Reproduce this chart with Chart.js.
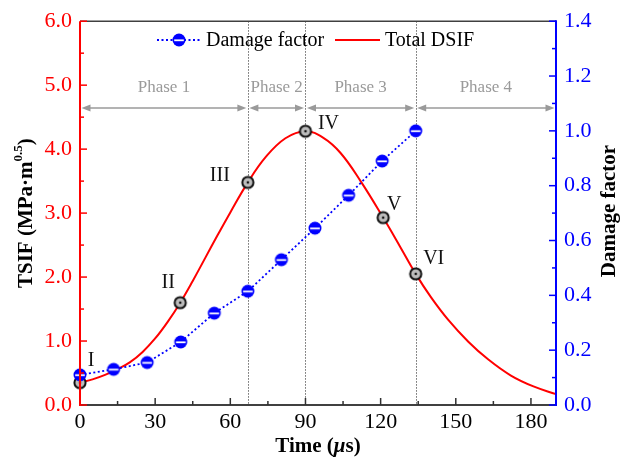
<!DOCTYPE html>
<html>
<head>
<meta charset="utf-8">
<script src="https://cdn.jsdelivr.net/npm/chart.js@4/dist/chart.umd.min.js"></script>
<style>
  html, body { margin: 0; padding: 0; background: #fff; }
  #wrap { width: 626px; height: 461px; position: relative; }
</style>
</head>
<body>
<div id="wrap"><canvas id="chart" width="626" height="461"></canvas></div>
<script>
// Damage factor sampled along the loading history
const damageTime = [0, 13.4, 26.8, 40.2, 53.6, 67, 80.4, 93.8, 107.2, 120.6, 134];
const damageFactor = [0.11, 0.13, 0.155, 0.23, 0.335, 0.415, 0.53, 0.645, 0.765, 0.89, 1.0];

// Total dynamic stress intensity factor (MPa·m^0.5)
const tsifTime = [0, 5, 10, 15, 20, 25, 30, 35, 40, 45, 50, 55, 60, 67, 74, 82, 90, 97, 104, 112, 121, 128, 134, 140, 147, 155, 163, 172, 181, 190];
const tsifValue = [0.35, 0.40, 0.47, 0.56, 0.67, 0.83, 1.04, 1.30, 1.60, 1.94, 2.30, 2.66, 3.01, 3.48, 3.87, 4.17, 4.28, 4.18, 3.94, 3.50, 2.93, 2.46, 2.05, 1.69, 1.33, 0.99, 0.71, 0.46, 0.29, 0.17];

// Characteristic states on the TSIF curve
const stageTimes = [0, 40, 67, 90, 121, 134];
const stageLabels = ['I', 'II', 'III', 'IV', 'V', 'VI'];

// Crack propagation phases
const phaseBounds = [0, 67, 90, 134, 190];
const phaseLabels = ['Phase 1', 'Phase 2', 'Phase 3', 'Phase 4'];

// Axis ticks
const timeTicks = [0, 30, 60, 90, 120, 150, 180];
const timeMinorTicks = [15, 45, 75, 105, 135, 165];
const tsifTicks = [0, 1, 2, 3, 4, 5, 6];
const tsifMinorTicks = [0.5, 1.5, 2.5, 3.5, 4.5, 5.5];
const damageTicks = [0, 0.2, 0.4, 0.6, 0.8, 1.0, 1.2, 1.4];
const damageMinorTicks = [0.1, 0.3, 0.5, 0.7, 0.9, 1.1, 1.3];

const SERIF = "'Liberation Serif', 'Times New Roman', serif";
Chart.defaults.font.family = SERIF;

// Marker sprites
function makeBlueMarker() {
  const c = document.createElement('canvas');
  c.width = 16; c.height = 16;
  const g = c.getContext('2d');
  g.fillStyle = '#0000ff';
  g.beginPath(); g.arc(8, 8, 6.5, 0, Math.PI * 2); g.fill();
  g.strokeStyle = '#ffffff';
  g.lineWidth = 1.8;
  g.beginPath(); g.moveTo(3.2, 8.3); g.lineTo(12.8, 8.3); g.stroke();
  return c;
}
function makeStageMarker() {
  const c = document.createElement('canvas');
  c.width = 16; c.height = 16;
  const g = c.getContext('2d');
  g.fillStyle = '#bdbdbd';
  g.strokeStyle = '#111111';
  g.lineWidth = 2;
  g.beginPath(); g.arc(8, 8, 5.6, 0, Math.PI * 2); g.fill(); g.stroke();
  g.fillStyle = '#111111';
  g.beginPath(); g.arc(8, 8, 1.3, 0, Math.PI * 2); g.fill();
  return c;
}
const blueMarker = makeBlueMarker();
const stageMarker = makeStageMarker();

// Label offsets (px) for the stage markers
const stageLabelOffset = {
  I: [11, -22], II: [-12, -20], III: [-28, -7], IV: [23, -7], V: [11, -13], VI: [18, -15]
};

function drawArrowHead(ctx, x, y, dir) {
  ctx.beginPath();
  ctx.moveTo(x, y);
  ctx.lineTo(x - dir * 9, y - 3.5);
  ctx.lineTo(x - dir * 9, y + 3.5);
  ctx.closePath();
  ctx.fill();
}

const decorPlugin = {
  id: 'decor',
  beforeDatasetsDraw(chart) {
    const ctx = chart.ctx;
    const a = chart.chartArea;
    const xs = chart.scales.x;
    ctx.save();
    // phase boundaries
    ctx.strokeStyle = '#666666';
    ctx.lineWidth = 1;
    ctx.setLineDash([1.5, 1.5]);
    for (let i = 1; i < phaseBounds.length - 1; i++) {
      const px = Math.round(xs.getPixelForValue(phaseBounds[i])) + 0.5;
      ctx.beginPath(); ctx.moveTo(px, a.top); ctx.lineTo(px, a.bottom); ctx.stroke();
    }
    ctx.setLineDash([]);
    // phase arrows and captions
    const arrowY = 108;
    ctx.strokeStyle = '#9a9a9a';
    ctx.fillStyle = '#9a9a9a';
    ctx.lineWidth = 1.4;
    ctx.font = '17px ' + SERIF;
    ctx.textAlign = 'center';
    ctx.textBaseline = 'middle';
    for (let i = 0; i < phaseLabels.length; i++) {
      const x0 = xs.getPixelForValue(phaseBounds[i]) + 1.5;
      const x1 = xs.getPixelForValue(phaseBounds[i + 1]) - 1.5;
      ctx.beginPath(); ctx.moveTo(x0 + 4, arrowY); ctx.lineTo(x1 - 4, arrowY); ctx.stroke();
      drawArrowHead(ctx, x0, arrowY, -1);
      drawArrowHead(ctx, x1, arrowY, 1);
      ctx.fillStyle = '#9a9a9a';
      ctx.fillText(phaseLabels[i], (x0 + x1) / 2, 88);
    }
    ctx.restore();
  },
  afterDatasetsDraw(chart) {
    const ctx = chart.ctx;
    const a = chart.chartArea;
    const xs = chart.scales.x, yl = chart.scales.yL, yr = chart.scales.yR;
    ctx.save();
    // frame
    ctx.lineWidth = 1.5;
    ctx.strokeStyle = '#404040';
    ctx.beginPath(); ctx.moveTo(a.left, a.top); ctx.lineTo(a.right, a.top); ctx.stroke();
    ctx.lineWidth = 2;
    ctx.beginPath(); ctx.moveTo(a.left, a.bottom); ctx.lineTo(a.right, a.bottom); ctx.stroke();
    // bottom ticks (inward)
    ctx.strokeStyle = '#303030';
    ctx.lineWidth = 1.5;
    timeTicks.forEach(v => {
      const px = xs.getPixelForValue(v);
      ctx.beginPath(); ctx.moveTo(px, a.bottom); ctx.lineTo(px, a.bottom - 7); ctx.stroke();
    });
    timeMinorTicks.forEach(v => {
      const px = xs.getPixelForValue(v);
      ctx.beginPath(); ctx.moveTo(px, a.bottom); ctx.lineTo(px, a.bottom - 4); ctx.stroke();
    });
    // left axis
    ctx.strokeStyle = '#ff0000';
    ctx.lineWidth = 2;
    ctx.beginPath(); ctx.moveTo(a.left, a.top); ctx.lineTo(a.left, a.bottom + 1); ctx.stroke();
    ctx.lineWidth = 1.5;
    tsifTicks.forEach(v => {
      const py = yl.getPixelForValue(v);
      ctx.beginPath(); ctx.moveTo(a.left, py); ctx.lineTo(a.left + 7, py); ctx.stroke();
    });
    tsifMinorTicks.forEach(v => {
      const py = yl.getPixelForValue(v);
      ctx.beginPath(); ctx.moveTo(a.left, py); ctx.lineTo(a.left + 4, py); ctx.stroke();
    });
    // right axis
    ctx.strokeStyle = '#0000ff';
    ctx.lineWidth = 2;
    ctx.beginPath(); ctx.moveTo(a.right, a.top - 1); ctx.lineTo(a.right, a.bottom + 1); ctx.stroke();
    ctx.lineWidth = 1.5;
    damageTicks.forEach(v => {
      const py = yr.getPixelForValue(v);
      ctx.beginPath(); ctx.moveTo(a.right, py); ctx.lineTo(a.right - 7, py); ctx.stroke();
    });
    damageMinorTicks.forEach(v => {
      const py = yr.getPixelForValue(v);
      ctx.beginPath(); ctx.moveTo(a.right, py); ctx.lineTo(a.right - 4, py); ctx.stroke();
    });

    // stage labels
    ctx.fillStyle = '#111111';
    ctx.font = '20px ' + SERIF;
    ctx.textAlign = 'center';
    ctx.textBaseline = 'middle';
    stageTimes.forEach((t, i) => {
      const idx = tsifTime.indexOf(t);
      const px = xs.getPixelForValue(t);
      const py = yl.getPixelForValue(tsifValue[idx]);
      const off = stageLabelOffset[stageLabels[i]];
      ctx.fillText(stageLabels[i], px + off[0], py + off[1]);
    });

    // legend
    const ly = 40;
    ctx.strokeStyle = '#0000ff';
    ctx.lineWidth = 1.8;
    ctx.setLineDash([2, 2.5]);
    ctx.beginPath(); ctx.moveTo(157, ly); ctx.lineTo(202, ly); ctx.stroke();
    ctx.setLineDash([]);
    ctx.drawImage(blueMarker, 179 - 8, ly - 8);
    ctx.fillStyle = '#000000';
    ctx.font = '20px ' + SERIF;
    ctx.textAlign = 'left';
    ctx.fillText('Damage factor', 206, ly + 1);
    ctx.strokeStyle = '#ff0000';
    ctx.lineWidth = 2;
    ctx.beginPath(); ctx.moveTo(335, ly); ctx.lineTo(380, ly); ctx.stroke();
    ctx.fillText('Total DSIF', 385, ly + 1);

    // axis titles
    const bold = 'bold 21px ' + SERIF;
    ctx.fillStyle = '#000000';
    ctx.textBaseline = 'middle';
    ctx.textAlign = 'left';
    const p1 = 'Time (', p2 = '\u03bc', p3 = 's)';
    ctx.font = bold; const w1 = ctx.measureText(p1).width, w3 = ctx.measureText(p3).width;
    ctx.font = 'italic ' + bold; const w2 = ctx.measureText(p2).width;
    let tx = (a.left + a.right) / 2 - (w1 + w2 + w3) / 2;
    const ty = 447;
    ctx.font = bold; ctx.fillText(p1, tx, ty); tx += w1;
    ctx.font = 'italic ' + bold; ctx.fillText(p2, tx, ty); tx += w2;
    ctx.font = bold; ctx.fillText(p3, tx, ty);

    // left title with superscript
    ctx.save();
    ctx.translate(27, (a.top + a.bottom) / 2);
    ctx.rotate(-Math.PI / 2);
    const s1 = 'TSIF (MPa\u00b7m', s2 = '0.5', s3 = ')';
    const supFont = 'bold 13px ' + SERIF;
    ctx.font = bold; const m1 = ctx.measureText(s1).width, m3 = ctx.measureText(s3).width;
    ctx.font = supFont; const m2 = ctx.measureText(s2).width;
    let sx = -(m1 + m2 + m3) / 2;
    ctx.font = bold; ctx.fillText(s1, sx, 0); sx += m1;
    ctx.font = supFont; ctx.fillText(s2, sx, -8); sx += m2;
    ctx.font = bold; ctx.fillText(s3, sx, 0);
    ctx.restore();

    // right title
    ctx.save();
    ctx.translate(610, (a.top + a.bottom) / 2 - 2);
    ctx.rotate(-Math.PI / 2);
    ctx.font = bold;
    ctx.textAlign = 'center';
    ctx.fillText('Damage factor', 0, 0);
    ctx.restore();

    ctx.restore();
  }
};

const fixedTicks = (values) => (scale) => { scale.ticks = values.map(v => ({ value: v })); };

new Chart(document.getElementById('chart'), {
  type: 'line',
  data: {
    datasets: [
      {
        label: 'Damage factor',
        data: damageTime.map((t, i) => ({ x: t, y: damageFactor[i] })),
        yAxisID: 'yR',
        borderColor: '#0000ff',
        borderWidth: 1.8,
        borderDash: [2, 2.5],
        pointStyle: blueMarker,
        pointRadius: 6,
        tension: 0,
        clip: false,
        order: 0
      },
      {
        label: 'Total DSIF',
        data: tsifTime.map((t, i) => ({ x: t, y: tsifValue[i] })),
        yAxisID: 'yL',
        borderColor: '#ff0000',
        borderWidth: 2,
        tension: 0.4,
        pointStyle: stageMarker,
        pointRadius: (c) => (c.raw && stageTimes.includes(c.raw.x)) ? 6 : 0,
        clip: false,
        order: 1
      }
    ]
  },
  options: {
    animation: false,
    responsive: false,
    events: [],
    layout: { padding: { top: 20, left: 0, right: 0, bottom: 0 } },
    plugins: { legend: { display: false }, tooltip: { enabled: false } },
    scales: {
      x: {
        type: 'linear', min: 0, max: 190,
        afterBuildTicks: fixedTicks(timeTicks),
        afterFit: (s) => { s.height = 56; },
        grid: { display: false, drawTicks: false, tickLength: 0 },
        border: { display: false },
        ticks: { color: '#000000', font: { size: 22 }, padding: 4, maxRotation: 0, autoSkip: false }
      },
      yL: {
        type: 'linear', position: 'left', min: 0, max: 6,
        afterBuildTicks: fixedTicks(tsifTicks),
        afterFit: (s) => { s.width = 80; },
        grid: { display: false, drawTicks: false, tickLength: 0 },
        border: { display: false },
        ticks: { color: '#ff0000', font: { size: 22 }, padding: 8, callback: (v) => Number(v).toFixed(1) }
      },
      yR: {
        type: 'linear', position: 'right', min: 0, max: 1.4,
        afterBuildTicks: fixedTicks(damageTicks),
        afterFit: (s) => { s.width = 70; },
        grid: { display: false, drawTicks: false, tickLength: 0 },
        border: { display: false },
        ticks: { color: '#0000ff', font: { size: 22 }, padding: 8, callback: (v) => Number(v).toFixed(1) }
      }
    }
  },
  plugins: [decorPlugin]
});
</script>
</body>
</html>
